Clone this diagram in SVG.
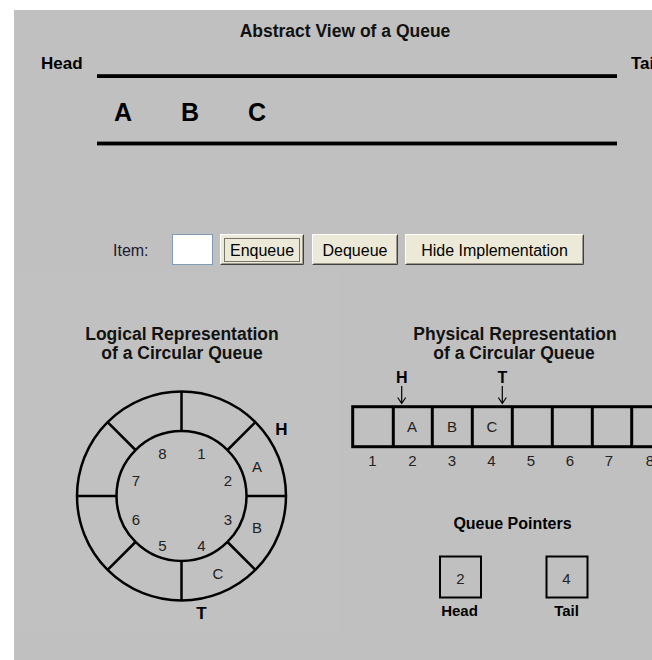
<svg xmlns="http://www.w3.org/2000/svg" width="652" height="660" viewBox="0 0 652 660">
<style>
text{font-family:"Liberation Sans",Arial,sans-serif;fill:#000}
.b{font-weight:bold}
.t{font-size:17.5px;font-weight:bold;text-anchor:middle;fill:#111}
.n{font-size:15px;fill:#222;text-anchor:middle}
.btn{font-size:16px;text-anchor:middle}
.ln{stroke:#000;stroke-width:2.5;fill:none}
.cell{stroke:#000;stroke-width:3;fill:none}
.arr{stroke:#000;stroke-width:1.2;fill:none}
</style>
<rect x="0" y="0" width="652" height="660" fill="#fff"/>
<rect x="14" y="10" width="638" height="650" fill="#c0c0c0"/>
<rect x="14" y="272" width="324" height="360" fill="#c1c1c1"/>

<g id="abstract-view">
<text class="t" x="345" y="37" font-size="17">Abstract View of a Queue</text>
<text class="b" x="41" y="69" font-size="17">Head</text>
<text class="b" x="631" y="69" font-size="17">Tail</text>
<rect x="97" y="74.2" width="520" height="3.8" fill="#000"/>
<rect x="97" y="141.6" width="520" height="3.8" fill="#000"/>
<text class="b" x="114" y="120.5" font-size="25">A</text>
<text class="b" x="181" y="120.5" font-size="25">B</text>
<text class="b" x="248" y="120.5" font-size="25">C</text>
</g>

<g id="controls">
<text x="113" y="256" font-size="16" style="fill:#1a1a33">Item:</text>
<rect x="172.5" y="234.5" width="40" height="30" fill="#fff" stroke="#7f9db9"/>
<g id="btn-enqueue">
<rect x="220" y="234" width="84" height="31" fill="#ece9d8"/>
<path d="M220.5,264.5V234.5H303.5" stroke="#fff" fill="none"/>
<path d="M220.5,264.5H303.5V234.5" stroke="#404040" fill="none"/>
<path d="M221.5,263.5H302.5V235.5" stroke="#9d9a8c" fill="none"/>
<rect x="224.5" y="238.5" width="75" height="23" fill="none" stroke="#000" stroke-dasharray="1,1"/>
<text class="btn" x="262" y="256">Enqueue</text>
</g>
<g id="btn-dequeue">
<rect x="312" y="234" width="86" height="31" fill="#ece9d8"/>
<path d="M312.5,264.5V234.5H397.5" stroke="#fff" fill="none"/>
<path d="M312.5,264.5H397.5V234.5" stroke="#404040" fill="none"/>
<path d="M313.5,263.5H396.5V235.5" stroke="#9d9a8c" fill="none"/>
<text class="btn" x="355" y="256">Dequeue</text>
</g>
<g id="btn-hide">
<rect x="405" y="234" width="179" height="31" fill="#ece9d8"/>
<path d="M405.5,264.5V234.5H583.5" stroke="#fff" fill="none"/>
<path d="M405.5,264.5H583.5V234.5" stroke="#404040" fill="none"/>
<path d="M406.5,263.5H582.5V235.5" stroke="#9d9a8c" fill="none"/>
<text class="btn" x="494.5" y="256">Hide Implementation</text>
</g>
</g>

<g id="logical">
<text class="t" x="182" y="340">Logical Representation</text>
<text class="t" x="182" y="359">of a Circular Queue</text>
<circle class="ln" cx="181.5" cy="496" r="104.5"/>
<circle class="ln" cx="181.5" cy="496" r="65"/>
<path class="ln" d="M181.5,391.5V431 M181.5,561V600.5 M77,496H116.5 M246.5,496H286 M227.5,450L255.4,422.1 M227.5,542L255.4,569.9 M135.5,450L107.6,422.1 M135.5,542L107.6,569.9"/>
<text class="n" x="201.5" y="458.5">1</text>
<text class="n" x="228" y="485.5">2</text>
<text class="n" x="228" y="524.5">3</text>
<text class="n" x="201.5" y="550.5">4</text>
<text class="n" x="162.5" y="550.5">5</text>
<text class="n" x="136" y="524.5">6</text>
<text class="n" x="136" y="485.5">7</text>
<text class="n" x="162.5" y="458.5">8</text>
<text class="n" x="257" y="472">A</text>
<text class="n" x="257" y="532.5">B</text>
<text class="n" x="218" y="578.5">C</text>
<text class="b" x="281.5" y="435" font-size="17" text-anchor="middle">H</text>
<text class="b" x="201.5" y="619" font-size="17" text-anchor="middle">T</text>
</g>

<g id="physical">
<text class="t" x="515" y="340">Physical Representation</text>
<text class="t" x="514" y="359">of a Circular Queue</text>
<rect class="cell" x="352.7" y="406.7" width="330" height="40"/>
<path class="cell" d="M393.3,406.7V446.7 M432.3,406.7V446.7 M472.3,406.7V446.7 M512.3,406.7V446.7 M552.3,406.7V446.7 M592.3,406.7V446.7 M631.7,406.7V446.7"/>
<text class="n" x="412" y="432">A</text>
<text class="n" x="452" y="432">B</text>
<text class="n" x="492" y="432">C</text>
<text class="n" x="372.5" y="465.5">1</text>
<text class="n" x="412.5" y="465.5">2</text>
<text class="n" x="452" y="465.5">3</text>
<text class="n" x="491.5" y="465.5">4</text>
<text class="n" x="531" y="465.5">5</text>
<text class="n" x="570" y="465.5">6</text>
<text class="n" x="609" y="465.5">7</text>
<text class="n" x="650" y="465.5">8</text>
<text class="b" x="401.7" y="382.5" font-size="16" text-anchor="middle">H</text>
<text class="b" x="502.3" y="382.5" font-size="16" text-anchor="middle">T</text>
</g>

<g id="connectors">
<path class="arr" d="M401.7,386V403 M397.7,397.5L401.7,403.5L405.7,397.5"/>
<path class="arr" d="M502.3,386V403 M498.3,397.5L502.3,403.5L506.3,397.5"/>
</g>

<g id="queue-pointers">
<text class="b" x="512.5" y="529" font-size="16" text-anchor="middle">Queue Pointers</text>
<g id="head-pointer">
<rect x="440" y="556.5" width="41" height="41" fill="none" stroke="#000" stroke-width="2"/>
<text class="n" x="460.5" y="583.5">2</text>
<text class="b" x="459.5" y="616" font-size="15" text-anchor="middle">Head</text>
</g>
<g id="tail-pointer">
<rect x="546.5" y="556.5" width="41" height="41" fill="none" stroke="#000" stroke-width="2"/>
<text class="n" x="566.5" y="583.5">4</text>
<text class="b" x="566.5" y="616" font-size="15" text-anchor="middle">Tail</text>
</g>
</g>
</svg>
